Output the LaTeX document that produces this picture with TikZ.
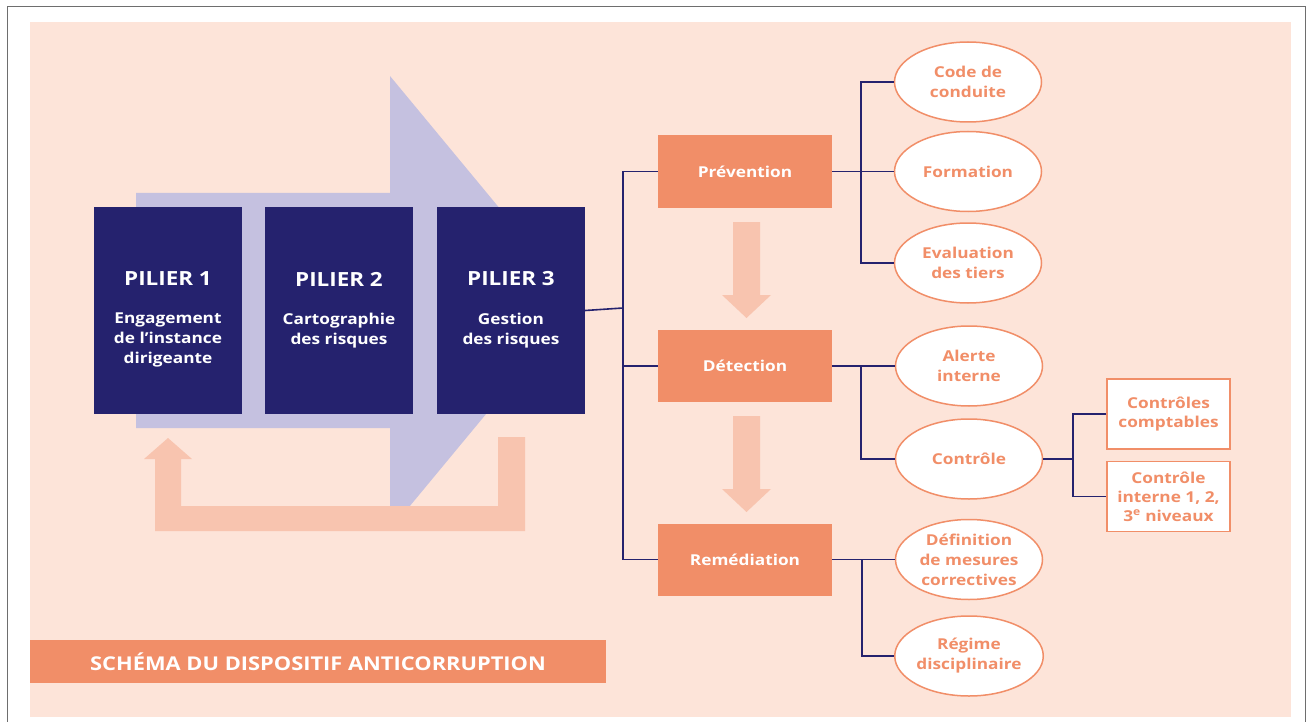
\documentclass[tikz,border=0pt]{standalone}
\usepackage{fontspec}
\setmainfont{Open Sans}[FakeStretch=1.15]
\usetikzlibrary{positioning,shapes.geometric}

\definecolor{peach}{HTML}{FDE4D9}
\definecolor{lavender}{HTML}{C5C1E0}
\definecolor{navy}{HTML}{25226E}
\definecolor{coral}{HTML}{F18E68}
\definecolor{salmon}{HTML}{F8C4AF}
\definecolor{framegray}{HTML}{6E6E6E}

\tikzset{
  pilier/.style={fill=navy, minimum width=148pt, minimum height=207pt, inner sep=0pt},
  piltitre/.style={text=white, inner sep=0pt, font=\bfseries\fontsize{19.5}{24}\selectfont},
  piltexte/.style={text=white, align=center, inner sep=0pt, font=\bfseries\fontsize{15}{20}\selectfont},
  etape/.style={fill=coral, text=white, minimum width=174pt, minimum height=72pt, font=\bfseries\fontsize{15}{18}\selectfont},
  outil/.style={ellipse, draw=coral, line width=1.5pt, fill=white, text=coral, minimum width=147pt,
    minimum height=80pt, inner sep=0pt, align=center, font=\bfseries\fontsize{15}{20}\selectfont},
  souscase/.style={draw=coral, line width=1.5pt, fill=white, text=coral, minimum width=123pt,
    minimum height=70pt, inner sep=0pt, align=center, font=\bfseries\fontsize{15}{19}\selectfont},
  lien/.style={navy, line width=1.6pt},
}

\begin{document}
\begin{tikzpicture}[x=1pt,y=-1pt]
\useasboundingbox (0,0) rectangle (1311,722);
\draw[framegray, line width=1pt] (7,722) -- (7,7) -- (1305,7) -- (1305,722);
\fill[peach] (30,22) rectangle (1291,717);

% grande fleche des piliers
\fill[lavender] (136,193) -- (390,193) -- (390,76) -- (578,303) -- (390,530)
    -- (390,428) -- (136,428) -- cycle;
% retour
\fill[salmon] (498,437) -- (525,437) -- (525,531) -- (155,531) -- (155,459) -- (144,459)
    -- (168,438) -- (192,459) -- (181,459) -- (181,506) -- (498,506) -- cycle;

\node[pilier] (p1) at (168,310.5) {};
\node[pilier] (p2) at (339,310.5) {};
\node[pilier] (p3) at (511,310.5) {};
\node[piltitre] (t1) at (168,279) {PILIER 1};
\node[piltitre] (t2) at (339,279) {PILIER 2};
\node[piltitre] (t3) at (511,279) {PILIER 3};
\node[piltexte, anchor=north] (b1) at (168,313) {Engagement\\de l'instance\\dirigeante};
\node[piltexte, anchor=north] (b2) at (339,313) {Cartographie\\des risques};
\node[piltexte, anchor=north] (b3) at (511,313) {Gestion\\des risques};

\foreach \y in {222,416}
  \fill[salmon] (733,\y) -- (760,\y) -- (760,{\y+73}) -- (771,{\y+73}) -- (746.5,{\y+96})
    -- (722,{\y+73}) -- (733,{\y+73}) -- cycle;

\node[etape] (prev) at (745,171.5) {Prévention};
\node[etape] (det) at (745,366) {Détection};
\node[etape] (rem) at (745,559.5) {Remédiation};

\node[outil] (code) at (968,82) {Code de\\conduite};
\node[outil] (forma) at (968,171.5) {Formation};
\node[outil] (eval) at (968,263) {Evaluation\\des tiers};
\node[outil] (alerte) at (969,366) {Alerte\\interne};
\node[outil] (ctrl) at (969,459) {Contrôle};
\node[outil] (def) at (969,559.5) {Définition\\de mesures\\correctives};
\node[outil] (regime) at (969,656) {Régime\\disciplinaire};

\node[souscase] (cc) at (1168.5,414) {Contrôles\\comptables};
\node[souscase] (ci) at (1168.5,496.5) {Contrôle\\interne 1, 2,\\3\textsuperscript{e} niveaux};

\coordinate (tronc) at (623,308);
\coordinate (bp) at (861,171.5);
\coordinate (bd) at (861,366);
\coordinate (bc) at (1073,459);
\coordinate (br) at (862,559.5);

\draw[lien] (p3.east) -- (tronc);
\draw[lien] (prev.west) -| (tronc |- rem) -- (rem.west);
\draw[lien] (tronc |- det) -- (det.west);
\draw[lien] (prev.east) -- (forma.west);
\draw[lien] (code.west) -| (bp |- eval) -- (eval.west);
\draw[lien] (det.east) -- (alerte.west);
\draw[lien] (bd) |- (ctrl.west);
\draw[lien] (ctrl.east) -- (bc);
\draw[lien] (cc.west) -| (bc |- ci) -- (ci.west);
\draw[lien] (rem.east) -- (def.west);
\draw[lien] (br) |- (regime.west);

\node[fill=coral, text=white, minimum width=576pt, minimum height=43pt,
  font=\bfseries\fontsize{19}{22}\selectfont] (titre) at (318,661.5)
  {SCHÉMA DU DISPOSITIF ANTICORRUPTION};
\end{tikzpicture}
\end{document}
